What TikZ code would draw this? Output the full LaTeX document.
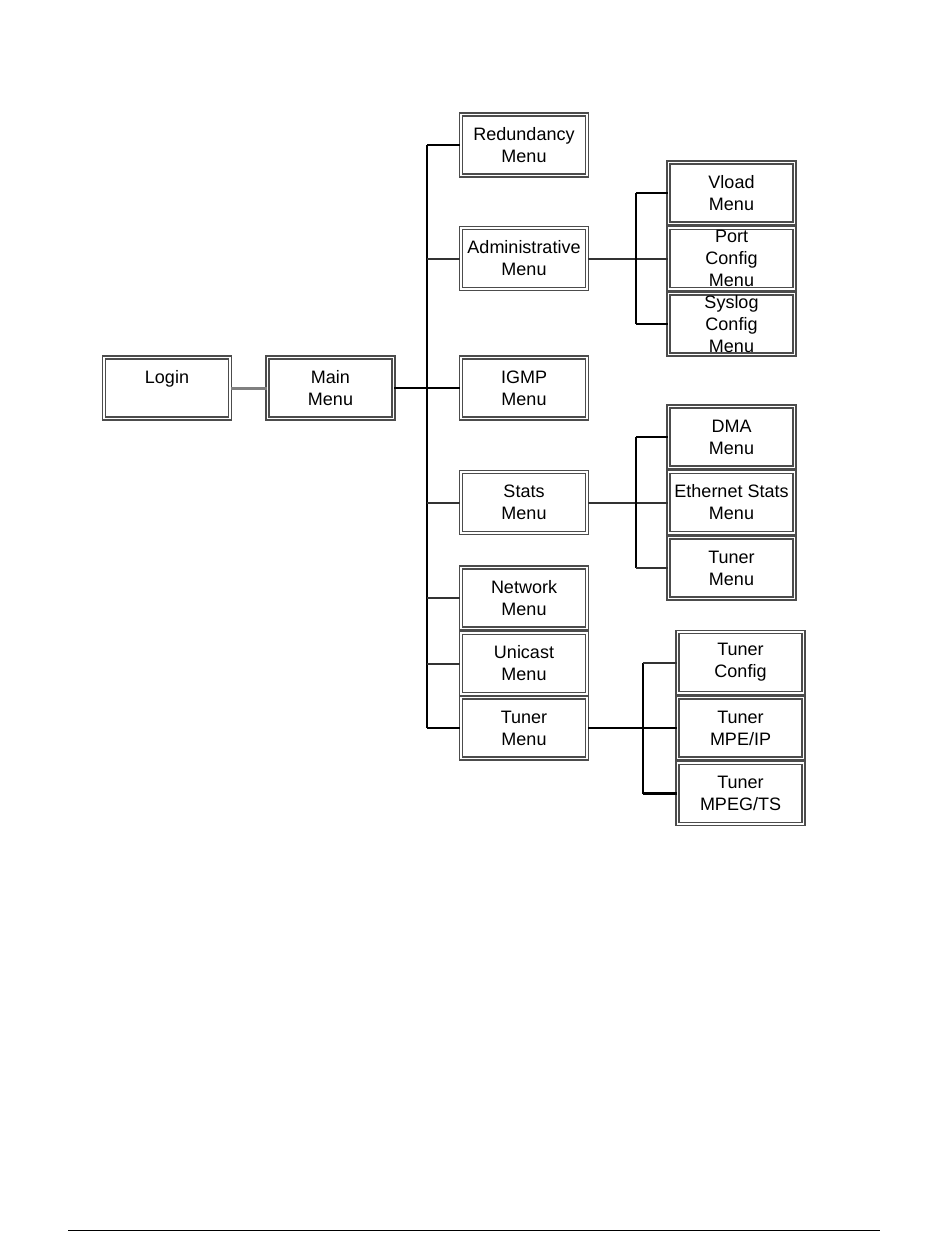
\documentclass[tikz,border=0pt]{standalone}
\usepackage{fontspec}
\setmainfont{Liberation Sans}
\usetikzlibrary{positioning}
\tikzset{
  % menu connector styles
  garr/.style={
    line width = 2.4pt
  },
  larr/.style={
    line width = 2pt, black!80
  },
}

\begin{document}
\begin{tikzpicture}
          [x=1pt, y=-1pt,
           menu/.style={draw=black!70, double=white, double distance=1.8pt,
                        line width=1.5pt, minimum width=126pt, minimum height=61pt,
                        inner sep=0pt, align=center,
                        font=\fontsize{18}{22}\selectfont}
          ]
          \useasboundingbox (0,0) rectangle (950,1260);

          \node (login) [menu] at (167,388) {Login\\\phantom{M}};
          \node (mainm) [menu, right=36pt of login] {Main\\Menu};

          \node (igmp) [menu, right=66pt of mainm] {IGMP\\Menu};
          \node (admin) [menu, above=67pt of igmp] {Administrative\\Menu};
          \node (redund) [menu, above=51pt of admin] {Redundancy\\Menu};
          \node (stats) [menu, below=52pt of igmp] {Stats\\Menu};
          \node (netw) [menu, below=33pt of stats] {Network\\Menu};
          \node (unicast) [menu, below=3pt of netw] {Unicast\\Menu};
          \node (tunerm) [menu, below=2pt of unicast] {Tuner\\Menu};

          \node (portc) [menu, right=80pt of admin] {Port\\Config\\Menu};
          \node (vload) [menu, above=3pt of portc] {Vload\\Menu};
          \node (syslog) [menu, below=3pt of portc] {Syslog\\Config\\Menu};

          \node (eths) [menu, right=80pt of stats] {Ethernet Stats\\Menu};
          \node (dma) [menu, above=3pt of eths] {DMA\\Menu};
          \node (tunst) [menu, below=3pt of eths] {Tuner\\Menu};

          \node (tmpe) [menu, right=89pt of tunerm] {Tuner\\MPE/IP};
          \node (tconf) [menu, above=3pt of tmpe] {Tuner\\Config};
          \node (tmpeg) [menu, below=3pt of tmpe] {Tuner\\MPEG/TS};

          % buses
          \coordinate (mbus) at ([xshift=33pt]mainm.east);
          \coordinate (abus) at ([xshift=48pt]admin.east);
          \coordinate (sbus) at ([xshift=48pt]stats.east);
          \coordinate (tbus) at ([xshift=55pt]tunerm.east);

          \draw[line width=3pt, black!50] (login) -- (mainm);
          \draw[garr] (mainm) -- (igmp);
          \draw[garr] (mbus |- redund) -- (mbus |- tunerm);
          \foreach \n in {redund, tunerm}
            \draw[garr] (mbus |- \n) -- (\n.west);
          \foreach \n in {admin, stats, netw, unicast}
            \draw[larr] (mbus |- \n) -- (\n.west);

          \draw[larr] (admin) -- (portc);
          \draw[garr] (abus |- vload) -- (abus |- syslog);
          \draw[garr] (abus |- vload) -- (vload.west);
          \draw[garr] (abus |- syslog) -- (syslog.west);

          \draw[larr] (stats) -- (eths);
          \draw[garr] (sbus |- dma) -- (sbus |- tunst);
          \draw[garr] (sbus |- dma) -- (dma.west);
          \draw[larr] (sbus |- tunst) -- (tunst.west);

          \draw[garr] (tunerm) -- (tmpe);
          \draw[garr] (tbus |- tconf) -- (tbus |- tmpeg);
          \draw[larr] (tbus |- tconf) -- (tconf.west);
          \draw[garr] (tbus |- tmpeg) -- (tmpeg.west);

          \coordinate (rulel) at (68,1230);
          \coordinate (ruler) at (880,1230);
          \draw[line width=1pt] (rulel) -- (ruler);
      \end{tikzpicture}
\end{document}
